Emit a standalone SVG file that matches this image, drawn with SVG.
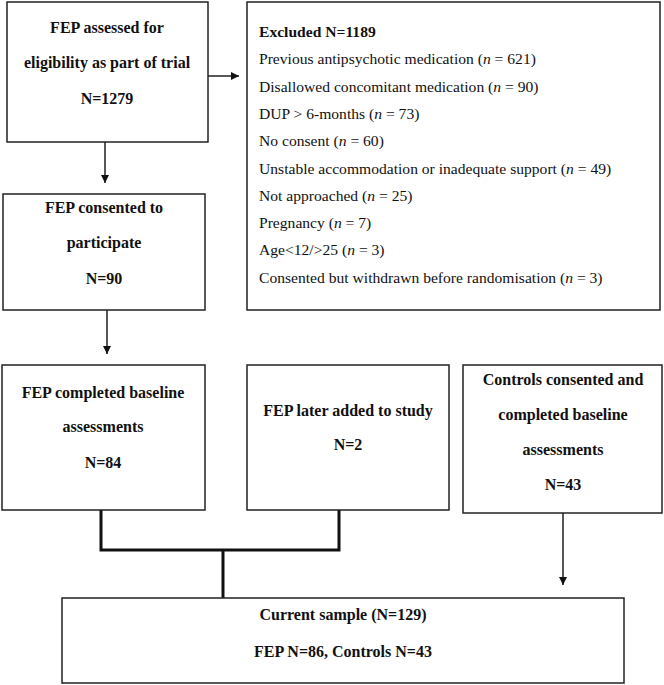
<svg xmlns="http://www.w3.org/2000/svg" width="664" height="685" viewBox="0 0 664 685">
<defs>
<marker id="arr" markerUnits="userSpaceOnUse" markerWidth="10" markerHeight="10" refX="8" refY="4" orient="auto">
<path d="M0,0 L8,4 L0,8 Z" fill="#111"/>
</marker>
<style>
.box{fill:#fff;stroke:#222;stroke-width:1.5}
.t{font-family:"Liberation Serif","Times New Roman",serif;font-weight:bold;font-size:16px;fill:#111;text-anchor:middle}
.r{font-family:"Liberation Serif","Times New Roman",serif;font-size:15.6px;fill:#111}
.b{font-weight:bold}
.thin{fill:none;stroke:#111;stroke-width:1.4}
.thick{fill:none;stroke:#111;stroke-width:3}
</style>
</defs>
<rect width="664" height="685" fill="#fff"/>
<g id="connectors">
<line class="thin" x1="208" y1="76" x2="239" y2="76" marker-end="url(#arr)"/>
<line class="thin" x1="105" y1="142" x2="105" y2="183" marker-end="url(#arr)"/>
<line class="thin" x1="107" y1="310" x2="107" y2="354" marker-end="url(#arr)"/>
<path class="thick" d="M101,510 V550 H339 V510"/>
<line class="thick" x1="223" y1="550" x2="223" y2="598"/>
<line class="thin" x1="563" y1="513" x2="563" y2="585" marker-end="url(#arr)"/>
</g>
<g id="assessed">
<rect class="box" x="7" y="2" width="201" height="140"/>
<text class="t" x="107" y="33">FEP assessed for</text>
<text class="t" x="107" y="68">eligibility as part of trial</text>
<text class="t" x="107" y="104">N=1279</text>
</g>
<g id="excluded">
<rect class="box" x="247" y="2" width="413" height="308"/>
<text class="r b" x="259" y="37">Excluded N=1189</text>
<text class="r" x="259" y="64.3">Previous antipsychotic medication (<tspan font-style="italic">n</tspan> = 621)</text>
<text class="r" x="259" y="91.6">Disallowed concomitant medication (<tspan font-style="italic">n</tspan> = 90)</text>
<text class="r" x="259" y="118.9">DUP &gt; 6-months (<tspan font-style="italic">n</tspan> = 73)</text>
<text class="r" x="259" y="146.2">No consent (<tspan font-style="italic">n</tspan> = 60)</text>
<text class="r" x="259" y="173.5">Unstable accommodation or inadequate support (<tspan font-style="italic">n</tspan> = 49)</text>
<text class="r" x="259" y="200.8">Not approached (<tspan font-style="italic">n</tspan> = 25)</text>
<text class="r" x="259" y="228.1">Pregnancy (<tspan font-style="italic">n</tspan> = 7)</text>
<text class="r" x="259" y="255.4">Age&lt;12/&gt;25 (<tspan font-style="italic">n</tspan> = 3)</text>
<text class="r" x="259" y="282.7">Consented but withdrawn before randomisation (<tspan font-style="italic">n</tspan> = 3)</text>
</g>
<g id="consented">
<rect class="box" x="3" y="194" width="202" height="116"/>
<text class="t" x="104" y="213">FEP consented to</text>
<text class="t" x="104" y="248">participate</text>
<text class="t" x="104" y="284">N=90</text>
</g>
<g id="baseline">
<rect class="box" x="2" y="365" width="203" height="145"/>
<text class="t" x="103" y="398">FEP completed baseline</text>
<text class="t" x="103" y="432">assessments</text>
<text class="t" x="103" y="468">N=84</text>
</g>
<g id="later">
<rect class="box" x="247" y="365" width="202" height="145"/>
<text class="t" x="348" y="416">FEP later added to study</text>
<text class="t" x="348" y="450">N=2</text>
</g>
<g id="controls">
<rect class="box" x="463" y="365" width="199" height="148"/>
<text class="t" x="563" y="385">Controls consented and</text>
<text class="t" x="563" y="420">completed baseline</text>
<text class="t" x="563" y="455">assessments</text>
<text class="t" x="563" y="490">N=43</text>
</g>
<g id="current">
<rect class="box" x="62" y="598" width="562" height="85"/>
<text class="t" x="343" y="620">Current sample (N=129)</text>
<text class="t" x="343" y="657">FEP N=86, Controls N=43</text>
</g>
</svg>
